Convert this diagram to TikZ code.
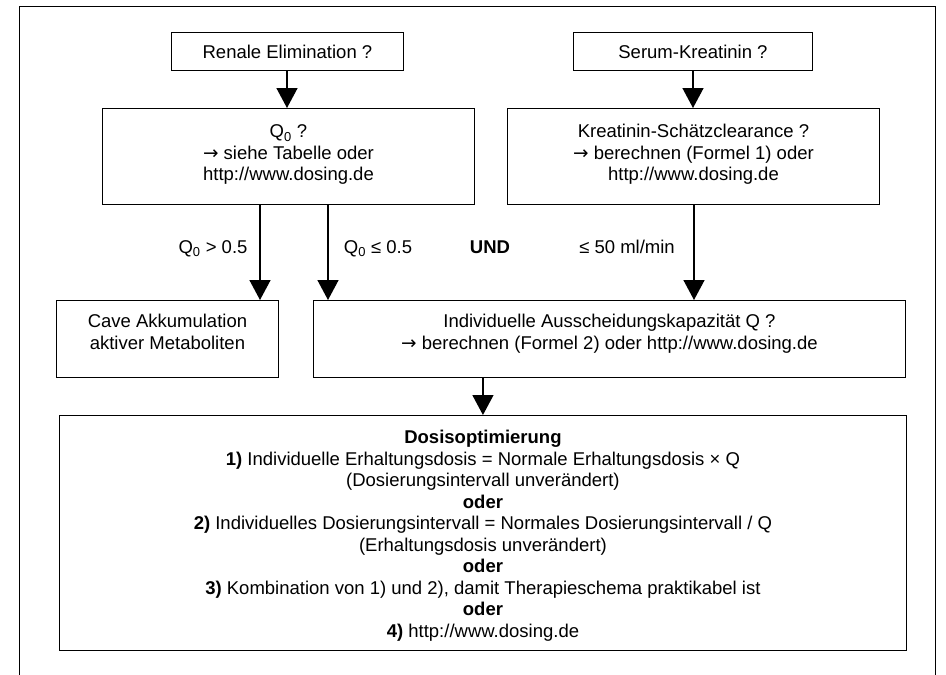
\documentclass[tikz,border=0pt]{standalone}
\usepackage{fontspec}
\setmainfont{Liberation Sans}
\newfontfamily\symfont{DejaVu Sans}
\usetikzlibrary{arrows.meta}
\newcommand{\mlines}[1]{\begin{tabular}[t]{@{}c@{}}#1\end{tabular}}
\newcommand{\rarr}{{\symfont →}}
\begin{document}
\begin{tikzpicture}[x=1pt,y=-1pt,
  box/.style={draw, line width=0.9pt, inner sep=0pt, anchor=north west, font=\fontsize{18.5}{21.5}\selectfont},
  lbl/.style={anchor=base, inner sep=0pt, font=\fontsize{18.5}{21.5}\selectfont},
  arr/.style={line width=1.5pt, -{Triangle[width=21pt,length=20pt]}}]
\useasboundingbox (0,0) rectangle (946,675);
% outer frame
\draw[line width=0.9pt] (19,675) -- (19,6) -- (935,6) -- (935,675);
% boxes
\node[box, minimum width=232pt, text height=26.5pt, text depth=11.5pt] (renal) at (171,32) {Renale Elimination ?};
\node[box, minimum width=239pt, text height=26.5pt, text depth=11.5pt] (serum) at (573,32) {Serum-Kreatinin ?};
\node[box, minimum width=372pt, text height=29.5pt, text depth=66.5pt] (q0) at (102,108)
  {\mlines{Q\textsubscript{0} ?\\\rarr{} siehe Tabelle oder\\http://www.dosing.de}};
\node[box, minimum width=372pt, text height=29.5pt, text depth=66.5pt] (krea) at (507,108)
  {\mlines{Kreatinin-Schätzclearance ?\\\rarr{} berechnen (Formel 1) oder\\http://www.dosing.de}};
\node[box, minimum width=222pt, text height=27.5pt, text depth=49.5pt] (cave) at (56,300)
  {\mlines{Cave Akkumulation\\aktiver Metaboliten}};
\node[box, minimum width=592pt, text height=27.5pt, text depth=49.5pt] (indiv) at (313,300)
  {\mlines{Individuelle Ausscheidungskapazität Q ?\\\rarr{} berechnen (Formel 2) oder http://www.dosing.de}};
\node[box, minimum width=847pt, text height=28.5pt, text depth=206.5pt] (dosis) at (59,415)
  {\mlines{\textbf{Dosisoptimierung}\\
  \textbf{1)} Individuelle Erhaltungsdosis = Normale Erhaltungsdosis × Q\\
  (Dosierungsintervall unverändert)\\
  \textbf{oder}\\
  \textbf{2)} Individuelles Dosierungsintervall = Normales Dosierungsintervall / Q\\
  (Erhaltungsdosis unverändert)\\
  \textbf{oder}\\
  \textbf{3)} Kombination von 1) und 2), damit Therapieschema praktikabel ist\\
  \textbf{oder}\\
  \textbf{4)} http://www.dosing.de}};
% labels
\node[lbl] (lgt) at (213,253.5) {Q\textsubscript{0} > 0.5};
\node[lbl] (lle) at (378,253.5) {Q\textsubscript{0} ≤ 0.5};
\node[lbl] (und) at (490,253.5) {\textbf{UND}};
\node[lbl] (lml) at (627,253.5) {≤ 50 ml/min};
% arrows
\draw[arr] (287,0 |- renal.south) -- (287,0 |- q0.north);
\draw[arr] (693,0 |- serum.south) -- (693,0 |- krea.north);
\draw[arr] (260,0 |- q0.south) -- (260,0 |- cave.north);
\draw[arr] (328,0 |- q0.south) -- (328,0 |- indiv.north);
\draw[arr] (694,0 |- krea.south) -- (694,0 |- indiv.north);
\draw[arr] (dosis.north |- indiv.south) -- (dosis.north);
\end{tikzpicture}
\end{document}
